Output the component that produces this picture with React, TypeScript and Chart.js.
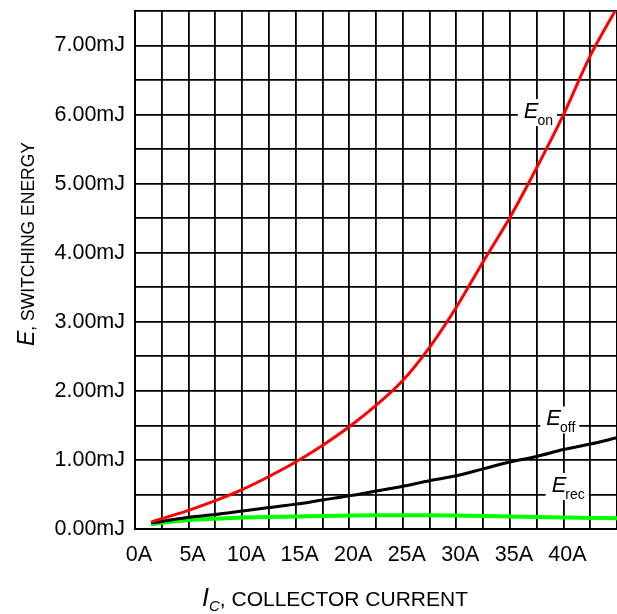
import React, { useEffect, useRef } from 'react';
import { Chart, registerables } from 'chart.js';

Chart.register(...registerables);

// Collector current (A)
const currentA = [1.5, 2.5, 5, 7.5, 10, 12.5, 15, 17.5, 20, 22.5, 25, 27.5, 30, 32.5, 35, 37.5, 40, 42.5, 45];
// Switching energies (mJ)
const eOnMJ = [0.10, 0.15, 0.27, 0.41, 0.57, 0.76, 0.97, 1.21, 1.48, 1.79, 2.15, 2.63, 3.21, 3.87, 4.51, 5.23, 6.0, 6.85, 7.55];
const eOffMJ = [0.09, 0.11, 0.17, 0.21, 0.26, 0.31, 0.36, 0.42, 0.48, 0.55, 0.62, 0.70, 0.77, 0.87, 0.97, 1.05, 1.15, 1.23, 1.32];
const eRecMJ = [0.07, 0.09, 0.13, 0.15, 0.165, 0.175, 0.18, 0.19, 0.195, 0.2, 0.2, 0.2, 0.195, 0.19, 0.18, 0.172, 0.165, 0.16, 0.155];

// Axis ranges / tick labels
const xMin = 0;
const xMax = 45;
const xGridStep = 2.5;
const xTickLabels = [0, 5, 10, 15, 20, 25, 30, 35, 40];
const yMin = 0;
const yMax = 7.5;
const yGridStep = 0.5;
const yTickLabels = [0, 1, 2, 3, 4, 5, 6, 7];

// Curve labels (E with subscript), anchored in data units
const curveLabelSubs = ['on', 'off', 'rec'];
const curveLabelX = [36.3, 38.4, 38.9];
const curveLabelY = [5.95, 1.5, 0.535];

const FONT = '"Liberation Sans", Arial, Helvetica, sans-serif';

const toPoints = (ys: number[]) => currentA.map((x, i) => ({ x, y: ys[i] }));

const curveLabelPlugin = {
  id: 'curveLabelPlugin',
  beforeDatasetsDraw(chart: any) {
    const { ctx, scales } = chart;
    const xs = scales.x;
    const ys = scales.y;
    curveLabelSubs.forEach((sub, i) => {
      const px = xs.getPixelForValue(curveLabelX[i]);
      const py = ys.getPixelForValue(curveLabelY[i]);
      ctx.save();
      ctx.font = `italic 22px ${FONT}`;
      const wE = ctx.measureText('E').width;
      ctx.font = `14px ${FONT}`;
      const wS = ctx.measureText(sub).width;
      ctx.fillStyle = '#ffffff';
      ctx.fillRect(px - 6, py - 19, wE + wS + 9, 27);
      ctx.fillStyle = '#000000';
      ctx.textBaseline = 'alphabetic';
      ctx.textAlign = 'left';
      ctx.font = `italic 22px ${FONT}`;
      ctx.fillText('E', px, py);
      ctx.font = `14px ${FONT}`;
      ctx.fillText(sub, px + wE - 1, py + 7);
      ctx.restore();
    });
  },
};

const axisTitlePlugin = {
  id: 'axisTitlePlugin',
  afterDraw(chart: any) {
    const { ctx } = chart;
    ctx.save();
    ctx.fillStyle = '#000000';
    ctx.textBaseline = 'alphabetic';
    ctx.textAlign = 'left';

    // Y title
    ctx.save();
    ctx.translate(34, 244);
    ctx.rotate(-Math.PI / 2);
    ctx.font = `italic 23px ${FONT}`;
    const wE = ctx.measureText('E').width;
    ctx.font = `17.5px ${FONT}`;
    const restY = ', SWITCHING ENERGY';
    const wRestY = ctx.measureText(restY).width;
    const sx = -(wE + wRestY) / 2;
    ctx.font = `italic 23px ${FONT}`;
    ctx.fillText('E', sx, 0);
    ctx.font = `17.5px ${FONT}`;
    ctx.fillText(restY, sx + wE, 0);
    ctx.restore();

    // X title
    ctx.font = `italic 25px ${FONT}`;
    const wI = ctx.measureText('I').width;
    ctx.font = `italic 15px ${FONT}`;
    const wC = ctx.measureText('C').width;
    ctx.font = `21px ${FONT}`;
    const restX = ', COLLECTOR CURRENT';
    const wRestX = ctx.measureText(restX).width;
    const total = wI + wC + wRestX;
    const x0 = 335 - total / 2;
    const by = 606;
    ctx.font = `italic 25px ${FONT}`;
    ctx.fillText('I', x0, by);
    ctx.font = `italic 15px ${FONT}`;
    ctx.fillText('C', x0 + wI, by + 5);
    ctx.font = `21px ${FONT}`;
    ctx.fillText(restX, x0 + wI + wC, by);
    ctx.restore();
  },
};

function App() {
  const canvasRef = useRef<HTMLCanvasElement | null>(null);

  useEffect(() => {
    const canvas = canvasRef.current;
    if (!canvas) return;
    const chart = new Chart(canvas, {
      type: 'line',
      data: {
        datasets: [
          {
            label: 'Eon',
            data: toPoints(eOnMJ),
            borderColor: '#ff0000',
            borderWidth: 3,
            pointRadius: 0,
            cubicInterpolationMode: 'monotone',
            fill: false,
          },
          {
            label: 'Eoff',
            data: toPoints(eOffMJ),
            borderColor: '#000000',
            borderWidth: 3,
            pointRadius: 0,
            cubicInterpolationMode: 'monotone',
            fill: false,
          },
          {
            label: 'Erec',
            data: toPoints(eRecMJ),
            borderColor: '#00ff00',
            borderWidth: 4,
            pointRadius: 0,
            cubicInterpolationMode: 'monotone',
            fill: false,
          },
        ],
      },
      options: {
        responsive: false,
        animation: false,
        devicePixelRatio: 1,
        layout: { padding: { top: 11, right: 0, left: 0, bottom: 0 } },
        plugins: {
          legend: { display: false },
          tooltip: { enabled: false },
          title: { display: false },
        },
        scales: {
          x: {
            type: 'linear',
            min: xMin,
            max: xMax,
            afterFit: (scale: any) => {
              scale.height = 85;
              scale.paddingLeft = 0;
              scale.paddingRight = 0;
              scale.paddingTop = 0;
              scale.paddingBottom = 0;
            },
            grid: { color: '#000000', lineWidth: 1.8, drawTicks: false },
            border: { display: true, color: '#000000', width: 2 },
            ticks: {
              stepSize: xGridStep,
              autoSkip: false,
              maxRotation: 0,
              minRotation: 0,
              padding: 13,
              labelOffset: 4,
              color: '#000000',
              font: { family: FONT, size: 21.5 },
              callback: (v: any) => (xTickLabels.includes(Number(v)) ? `${v}A` : ''),
            },
          },
          y: {
            type: 'linear',
            min: yMin,
            max: yMax,
            afterFit: (scale: any) => {
              scale.width = 135;
              scale.paddingLeft = 0;
              scale.paddingRight = 0;
              scale.paddingTop = 0;
              scale.paddingBottom = 0;
            },
            grid: { color: '#000000', lineWidth: 1.8, drawTicks: false },
            border: { display: true, color: '#000000', width: 2 },
            ticks: {
              stepSize: yGridStep,
              autoSkip: false,
              padding: 10,
              color: '#000000',
              font: { family: FONT, size: 21.5 },
              callback: (v: any) =>
                yTickLabels.includes(Number(v)) ? `${Number(v).toFixed(2)}mJ` : '',
            },
          },
        },
      },
      plugins: [curveLabelPlugin, axisTitlePlugin],
    } as any);
    return () => chart.destroy();
  }, []);

  return (
    <div style={{ position: 'absolute', left: 0, top: 0, width: 617, height: 614, background: '#fff' }}>
      <canvas ref={canvasRef} width={617} height={614} style={{ display: 'block' }} />
    </div>
  );
}

export default App;
